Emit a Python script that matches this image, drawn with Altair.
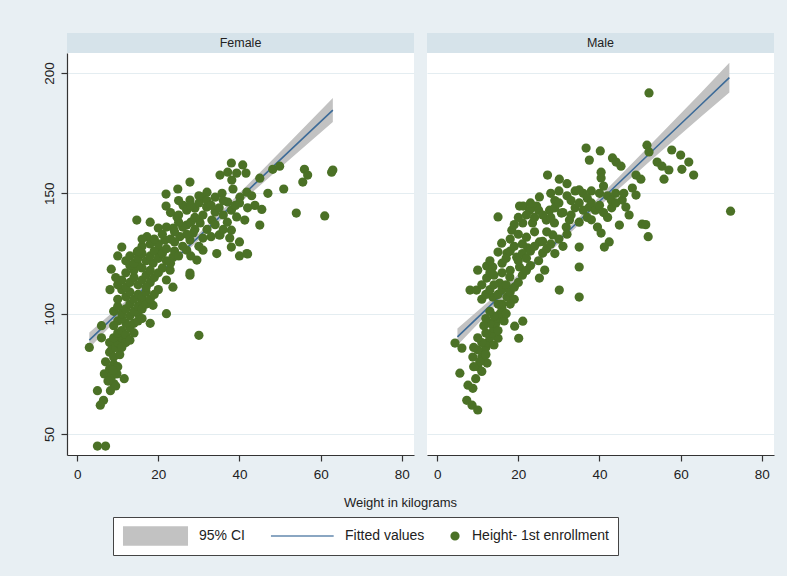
import altair as alt
import pandas as pd

# ---------------- data ----------------
female_points = [
    (5, 45), (7, 45), (3, 86), (6, 95), (6, 90), (5, 68), (6.5, 64), (5.7, 62), (7, 80), (8, 84),
    (6.7, 75), (11.6, 73), (30, 91), (22, 100), (18, 96), (18.7, 103.5), (16, 105.7), (8.1, 110),
    (8.4, 118.5), (11, 127.7), (14.8, 125.6), (23.6, 111), (27.8, 116), (34.4, 125), (38, 127.7),
    (40, 129.8), (40, 124), (42, 124.8), (35, 132.7), (38, 134.7), (38, 162.6), (40.8, 161.8),
    (41.6, 158.4), (35.2, 157.6), (27.8, 154.7), (24.8, 151.8), (21.9, 149.7), (21.9, 144.7),
    (38.1, 155.5), (45, 156.3), (48.2, 160), (49.9, 161.3), (56, 160), (56.8, 157.6), (55.6, 154.7),
    (62.7, 158.8), (63, 159.7), (47, 150), (50.9, 151.8), (54, 141.8), (61, 140.6), (45, 136.8),
    (43.8, 145), (45.5, 143.3), (41.8, 125), (37.6, 131.4), (41.3, 138.9), (39.3, 140.2),
    (35.2, 132.7), (32, 150.5), (34, 148.4), (35.7, 150), (37.1, 146.4), (40.1, 148.4),
    (41.8, 150.5), (38.4, 151.8), (37.1, 158.8), (39.3, 158.4), (30.7, 148.4), (27.8, 147.2),
    (26.1, 145), (29, 143.8), (31.9, 144.3), (34, 142.2), (33.2, 138.9), (30.3, 137.7), (27, 136.8),
    (24.6, 140.2), (23.7, 135.6), (20, 135.6), (18, 138), (17.2, 132), (21.6, 130.6), (25.3, 132),
    (28.6, 133.5), (31, 131.4), (31, 126.4), (27, 126.4), (23.6, 123.5), (20.4, 126.4), (18.7, 121),
    (22.9, 118.1), (27.8, 116.9), (29.5, 122.3), (14.7, 138.9), (24, 129.8), (27.8, 130.6),
    (8, 88), (8.5, 85), (9, 82), (9, 79), (8, 77), (8.5, 74), (9, 71), (9.5, 70), (8.2, 68),
    (9.8, 75), (10, 78), (10.5, 83), (9.5, 86), (10, 88), (11, 90), (7.6, 72), (8.8, 76.5),
    (9, 90), (10, 92), (11, 93), (12, 91), (13, 94), (14, 96), (12, 96), (10, 97), (9, 95), (11, 98),
    (13, 99), (15, 97), (12, 88), (14, 92), (11, 86), (13, 89), (15, 100), (16, 98),
    (9, 101), (10, 103), (11, 100), (12, 102), (13, 104), (14, 101), (15, 103), (16, 102), (17, 104),
    (10, 106), (12, 107), (13, 109), (14, 106), (15, 108), (11, 110), (16, 107), (17, 109), (18, 106),
    (19, 108), (20, 110),
    (10, 112), (11, 114), (12, 111), (13, 113), (14, 115), (15, 112), (16, 114), (17, 116), (18, 113),
    (19, 115), (12, 117), (14, 118), (16, 119), (18, 118), (20, 117), (21, 119), (22, 114), (13, 120),
    (15, 120), (17, 111), (9.5, 115),
    (12, 122), (13, 124), (14, 121), (15, 123), (16, 125), (17, 122), (18, 124), (19, 126), (20, 123),
    (21, 125), (22, 127), (23, 121), (24, 126), (25, 124), (26, 128), (16, 128), (18, 129), (20, 129),
    (22, 122), (10, 124), (28, 124), (30, 128), (15, 126),
    (19, 131), (21, 133), (22, 136), (23, 131), (24, 134), (26, 136), (27, 133), (28, 138), (29, 135),
    (30, 139), (32, 135), (33, 132), (34, 137), (36, 135), (16, 131), (25, 138), (31, 141),
    (23, 142), (25, 141), (27, 143), (28, 145), (30, 146), (32, 147), (33, 145), (35, 144), (36, 147),
    (38, 143), (39, 145), (40, 146), (42, 144), (25, 147), (30, 149), (29, 140), (36, 141), (37, 138),
    (43, 149),
]

male_points = [
    (52.2, 191.7), (51.7, 170), (52.2, 167.2), (36.7, 168.8), (40.2, 167.6), (37.5, 163.8),
    (43.2, 164.7), (44.1, 163), (45.3, 161.3), (57.8, 168), (60, 165.9), (62, 163), (60.3, 160),
    (63.2, 157.6), (54.2, 163), (55.4, 161.3), (57.1, 159.7), (55.9, 155.9), (72.3, 142.6),
    (27.2, 157.6), (30.1, 155.9), (40.4, 158.8), (40.4, 156.4), (49, 157.6), (50.2, 155.9),
    (48.1, 152.2), (49, 149.3), (45.6, 147.2), (46.5, 144.3), (47.3, 141), (44.9, 136.8),
    (50.5, 137.2), (51.4, 137), (52, 132), (15, 140.2), (20.3, 144.7), (21.2, 144.7), (24.5, 144.7),
    (25.2, 148.5), (28, 150), (30, 151), (32, 149), (34, 151), (36, 150), (38, 151), (40, 150),
    (42, 149), (44, 150), (33, 147), (37, 148), (29, 147), (35, 151.4), (42.9, 147.2),
    (39.5, 136), (40.4, 133.5), (42.4, 129.8), (41.2, 127.7), (35, 127.7), (35, 119.4), (30.1, 109.8),
    (35, 106.9), (18.4, 134.7), (15.9, 129.3), (15, 125.6), (17.2, 125.2), (10, 118.1), (12.2, 119.8),
    (13.7, 119.4), (8.1, 109.8), (9.7, 109.8), (12.2, 114.8), (25.2, 114.8), (26.5, 118.1), (26, 125.2),
    (22, 131.8), (23.5, 137.7), (26.9, 138.9), (28.9, 137.7), (30.6, 141.8), (31.8, 136), (32.6, 138.9),
    (28.5, 132.7), (25.2, 129.8), (22.3, 127.3), (19.6, 123.5), (20.3, 119.4), (17.9, 115.2),
    (15.4, 112.7), (17.2, 106.9), (13.7, 106.9), (37.5, 144.3), (27.7, 143), (22.8, 143), (21.1, 137.7),
    (32, 154), (41, 153), (46, 150),
    (4.4, 87.8), (6.1, 85.7), (5.6, 75.3), (7.6, 70.3), (8.8, 69), (7.3, 64), (8.6, 62), (10, 60),
    (19.1, 94.8), (21.1, 96.9), (20.1, 89.8), (15, 89.8), (12.3, 79.5), (8.8, 82),
    (11, 82), (11.5, 84), (12, 86), (12.5, 88), (13, 90), (13.5, 92), (14, 94), (14.5, 96), (15, 98),
    (15.5, 100), (16, 102), (16, 104), (12, 92), (11, 88), (10, 85), (13, 96), (14, 99), (13, 101),
    (12, 98), (10, 78), (11, 76), (9.5, 73), (10.5, 80), (9, 78), (12, 83), (14, 87), (15, 93),
    (16.5, 97), (17, 100), (11.5, 95), (10, 90), (9, 86),
    (11, 106), (12, 108), (13, 110), (14, 112), (15, 108), (16, 110), (17, 112), (18, 109), (19, 111),
    (20, 113), (14, 116), (16, 117), (18, 118), (21, 116), (22, 118), (11, 112), (13, 117), (19, 106),
    (23, 120), (15, 104), (18, 104),
    (16, 121), (17, 123), (18, 126), (19, 128), (20, 122), (21, 125), (22, 123), (23, 126), (24, 128),
    (25, 122), (26, 130), (27, 127), (28, 129), (29, 125), (30, 131), (31, 128), (18, 131), (20, 133),
    (24, 134), (27, 134), (32, 133), (13, 122), (21, 129),
    (20, 140), (22, 141), (24, 140), (25, 143), (26, 141), (28, 140), (29, 144), (30, 146), (31, 142),
    (33, 141), (34, 144), (35, 146), (36, 143), (37, 140), (38, 146), (39, 143), (40, 145), (41, 142),
    (42, 140), (43, 144), (44, 146), (19, 137), (23, 146), (35, 138), (38, 139),
]

female_fit_x = [3, 13, 23, 33, 43, 53, 63]
female_fit = [89.0, 105.0, 120.9, 136.8, 152.7, 168.7, 184.6]
female_lo = [85.8, 103.2, 119.7, 135.3, 150.2, 165.0, 179.6]
female_hi = [92.2, 106.8, 122.1, 138.3, 155.2, 172.4, 189.6]

male_fit_x = [5, 15, 25, 35, 45, 55, 65, 72]
male_fit = [90.4, 106.5, 122.6, 138.6, 154.7, 170.8, 186.8, 198.1]
male_lo = [86.9, 104.5, 121.3, 137.1, 152.2, 167.2, 181.8, 191.9]
male_hi = [93.9, 108.5, 123.9, 140.1, 157.2, 174.4, 191.8, 204.3]

x_ticks = [0, 20, 40, 60, 80]
y_ticks = [50, 100, 150, 200]
panel_names = ["Female", "Male"]
series_names = ["95% CI", "Fitted values", "Height- 1st enrollment"]

# ---------------- styling ----------------
FONT = "Liberation Sans"
BG = "#e8eff3"
STRIP = "#d6e3ea"
GREEN = "#4b7126"
LINE = "#3d6b98"
BAND = "#c2c2c2"
GRID = "#e4edf1"
AX = "#333333"
W = 347
H = 402

legend_fill = [BAND, "#8aa6c2", GREEN]
legend_shapes = ["M-0.97,-0.27H0.97V0.27H-0.97Z", "M-0.94,0H0.99", "circle"]
legend_sizes = [4225, 4225, 52]

xscale = alt.Scale(domain=[-2.5, 83], nice=False, zero=False)
yscale = alt.Scale(domain=[41.3, 208.3], nice=False, zero=False)


def x_axis(first):
    common = dict(values=x_ticks, grid=False, tickSize=6, labelPadding=6, domainColor=AX,
                  tickColor=AX, labelColor="#222", labelFont=FONT, labelFontSize=13.5,
                  domainWidth=1.2, tickWidth=1.2)
    if first:
        return alt.Axis(title="Weight in kilograms", titleX=333, titleY=47, titleAlign="center",
                        titleBaseline="middle", titleFont=FONT, titleFontSize=13,
                        titleFontWeight="normal", titleColor="#222", **common)
    return alt.Axis(title=None, **common)


def y_axis(first):
    if first:
        return alt.Axis(values=y_ticks, title=None, grid=True, gridColor=GRID, gridWidth=1.2,
                        tickSize=6, labelPadding=5, labelAngle=270, labelAlign="center",
                        labelBaseline="bottom", domainColor=AX, tickColor=AX, labelColor="#222",
                        labelFont=FONT, labelFontSize=13.5, domainWidth=1.2, tickWidth=1.2)
    return alt.Axis(values=y_ticks, title=None, grid=True, gridColor=GRID, gridWidth=1.2,
                    ticks=False, labels=False, domain=False)


def plot_panel(pts, fx, fy, flo, fhi, first):
    df = pd.DataFrame(pts, columns=["w", "h"])
    fit = pd.DataFrame({"w": fx, "fit": fy, "lo": flo, "hi": fhi})
    X = lambda f: alt.X(f, scale=xscale, axis=x_axis(first))
    Y = lambda f: alt.Y(f, scale=yscale, axis=y_axis(first))

    band = alt.Chart(fit).mark_area(color=BAND, opacity=1).encode(
        x=X("w:Q"), y=Y("lo:Q"), y2="hi:Q")
    line = alt.Chart(fit).mark_line(color=LINE, strokeWidth=1.6).encode(
        x=X("w:Q"), y=Y("fit:Q"))
    points = alt.Chart(df).mark_circle(color=GREEN, opacity=1, size=85).encode(
        x=X("w:Q"), y=Y("h:Q"))
    layers = [band, line, points]

    if first:
        leg = alt.Legend(orient="none", legendX=46, legendY=484, direction="horizontal",
                         title=None, symbolStrokeWidth=2, labelFont=FONT,
                         labelFontSize=14, labelColor="#222", labelOffset=10, columnPadding=23,
                         padding=9, strokeColor="#444", fillColor="white", cornerRadius=0,
                         labelLimit=400, clipHeight=20)
        leg_df = pd.DataFrame({"series": series_names, "w": [0, 0, 0], "h": [100, 100, 100]})
        legend_layer = alt.Chart(leg_df).transform_filter("false").mark_point(
            filled=True, opacity=1).encode(
            x=X("w:Q"), y=Y("h:Q"),
            fill=alt.Fill("series:N", scale=alt.Scale(domain=series_names, range=legend_fill),
                          legend=leg),
            stroke=alt.Stroke("series:N", scale=alt.Scale(domain=series_names, range=legend_fill),
                              legend=leg),
            shape=alt.Shape("series:N", scale=alt.Scale(domain=series_names, range=legend_shapes),
                            legend=leg),
            size=alt.Size("series:N", scale=alt.Scale(type="ordinal", domain=series_names,
                                                      range=legend_sizes),
                          legend=leg),
        )
        layers.append(legend_layer)

    return alt.layer(*layers).properties(
        width=W, height=H, view=alt.ViewBackground(fill="white", strokeWidth=0))


def strip_panel(name):
    return alt.Chart(pd.DataFrame({"t": [name]})).mark_text(
        font=FONT, fontSize=12.5, color="#222").encode(text="t:N").properties(
        width=W, height=20, view=alt.ViewBackground(fill=STRIP, strokeWidth=0))


s1 = strip_panel(panel_names[0])
s2 = strip_panel(panel_names[1])
p1 = plot_panel(female_points, female_fit_x, female_fit, female_lo, female_hi, True)
p2 = plot_panel(male_points, male_fit_x, male_fit, male_lo, male_hi, False)

chart = alt.concat(s1, s2, p1, p2, columns=2, spacing={"row": 0, "column": 13},
                   bounds="flush").properties(
    background=BG,
    padding={"left": 42, "top": 33, "right": 13, "bottom": 20},
).configure_view(strokeWidth=0)

chart.save("out.html", embed_options={"renderer": "svg", "actions": False})
